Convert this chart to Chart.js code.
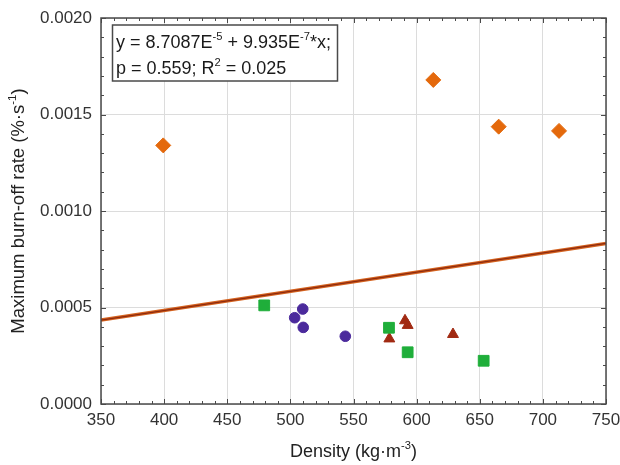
<!DOCTYPE html>
<html><head><meta charset="utf-8">
<script src="https://cdn.jsdelivr.net/npm/chart.js@4"></script>
<style>html,body{margin:0;padding:0;background:#fff;}canvas{display:block}</style>
</head><body>
<canvas id="c" width="620" height="465"></canvas>
<script>
// ---- data ----
const xMin = 350, xMax = 750, xStep = 50;
const yMin = 0, yMax = 0.002, yStep = 0.0005;

const diamondX = [399.3, 613.2, 665.0, 712.8];
const diamondY = [0.001340, 0.001679, 0.001437, 0.001415];

const squareX = [479.3, 578.1, 592.9, 653.1];
const squareY = [0.000511, 0.000395, 0.000268, 0.000224];

const circleX = [503.4, 509.8, 510.2, 543.5];
const circleY = [0.000447, 0.000492, 0.000397, 0.000351];

const triangleX = [578.4, 590.8, 592.9, 628.8];
const triangleY = [0.000338, 0.000432, 0.000408, 0.000361];

const fitLineX = [350, 750];
const fitLineY = [0.000435, 0.000832];

const xTitleParts = [{t:'Density (kg·m'},{t:'-3',sup:true},{t:')'}];
const yTitleParts = [{t:'Maximum burn-off rate (%·s'},{t:'-1',sup:true},{t:')'}];
const eqLine1 = [{t:'y = 8.7087E'},{t:'-5',sup:true},{t:' + 9.935E'},{t:'-7',sup:true},{t:'*x;'}];
const eqLine2 = [{t:'p = 0.559; R'},{t:'2',sup:true},{t:' = 0.025'}];

const FONT = "'Liberation Sans', Arial, sans-serif";

function pts(xs, ys){ return xs.map((x,i)=>({x:x, y:ys[i]})); }

function drawParts(ctx, parts, x, y, size, color){
  ctx.save();
  ctx.fillStyle = color;
  ctx.textBaseline = 'alphabetic';
  ctx.textAlign = 'left';
  let cx = x;
  for (const p of parts){
    const s = p.sup ? size*0.62 : size;
    ctx.font = s + 'px ' + FONT;
    ctx.fillText(p.t, cx, p.sup ? y - size*0.42 : y);
    cx += ctx.measureText(p.t).width;
  }
  ctx.restore();
  return cx - x;
}
function partsWidth(ctx, parts, size){
  ctx.save();
  let w = 0;
  for (const p of parts){
    const s = p.sup ? size*0.62 : size;
    ctx.font = s + 'px ' + FONT;
    w += ctx.measureText(p.t).width;
  }
  ctx.restore();
  return w;
}

const framePlugin = {
  id: 'frame',
  beforeDraw(chart){
    const ctx = chart.ctx;
    ctx.save();
    ctx.fillStyle = '#fff';
    ctx.fillRect(0,0,chart.width,chart.height);
    ctx.restore();
  },
  afterDatasetsDraw(chart){
    const ctx = chart.ctx, a = chart.chartArea;
    const xs = chart.scales.x, ys = chart.scales.y;
    ctx.save();
    ctx.strokeStyle = '#4a4a4a';
    ctx.lineWidth = 1;
    ctx.beginPath();
    for (let v = xMin; v <= xMax + 1e-9; v += 10){
      const px = Math.round(xs.getPixelForValue(v)) + 0.5;
      const len = (Math.abs(v % xStep) < 1e-6) ? 5 : 3;
      ctx.moveTo(px, a.bottom); ctx.lineTo(px, a.bottom - len);
      ctx.moveTo(px, a.top); ctx.lineTo(px, a.top + len);
    }
    for (let i = 0; i <= 20; i++){
      const py = Math.round(ys.getPixelForValue(i*0.0001)) + 0.5;
      const len = (i % 5 === 0) ? 5 : 3;
      ctx.moveTo(a.left, py); ctx.lineTo(a.left + len, py);
      ctx.moveTo(a.right, py); ctx.lineTo(a.right - len, py);
    }
    ctx.stroke();
    ctx.lineWidth = 1.5;
    ctx.strokeStyle = '#4a4a4a';
    ctx.strokeRect(a.left, a.top, a.right - a.left, a.bottom - a.top);

    // equation box
    const bx = 112.5, by = 25, bw = 225, bh = 56;
    ctx.fillStyle = '#fff';
    ctx.fillRect(bx, by, bw, bh);
    ctx.lineWidth = 1.5;
    ctx.strokeStyle = '#4a4a4a';
    ctx.strokeRect(bx, by, bw, bh);
    ctx.restore();
    drawParts(ctx, eqLine1, 116, 48, 18, '#1a1a1a');
    drawParts(ctx, eqLine2, 116, 74, 18, '#1a1a1a');

    // axis titles
    const xw = partsWidth(ctx, xTitleParts, 18);
    drawParts(ctx, xTitleParts, (a.left + a.right)/2 - xw/2, 457, 18, '#222');
    const yw = partsWidth(ctx, yTitleParts, 18.5);
    ctx.save();
    ctx.translate(24, (a.top + a.bottom)/2);
    ctx.rotate(-Math.PI/2);
    drawParts(ctx, yTitleParts, -yw/2, 0, 18.5, '#222');
    ctx.restore();
  }
};

new Chart(document.getElementById('c'), {
  type: 'scatter',
  data: {
    datasets: [
      { type:'line', data: pts(fitLineX, fitLineY), borderColor:'#d4621e', borderWidth:3.5, pointRadius:0, fill:false, tension:0, order:5 },
      { type:'line', data: pts(fitLineX, fitLineY), borderColor:'#8e2a0e', borderWidth:1.2, pointRadius:0, fill:false, tension:0, order:4 },
      { data: pts(diamondX, diamondY), pointStyle:'rectRot', pointRadius:7.5, backgroundColor:'#e4690c', borderColor:'#e4690c', borderWidth:1, order:1 },
      { data: pts(squareX, squareY), pointStyle:'rect', pointRadius:7.6, backgroundColor:'#1fae3a', borderColor:'#1fae3a', borderWidth:1, order:1 },
      { data: pts(circleX, circleY), pointStyle:'circle', pointRadius:5.3, backgroundColor:'#4b2a9c', borderColor:'#4b2a9c', borderWidth:1, order:1 },
      { data: pts(triangleX, triangleY), pointStyle:'triangle', pointRadius:6.3, backgroundColor:'#a12a12', borderColor:'#a12a12', borderWidth:1, order:1 }
    ]
  },
  options: {
    responsive:false, animation:false, devicePixelRatio:1,
    layout:{ padding:{ top:18, right:14, left:0, bottom:0 } },
    plugins:{ legend:{display:false}, tooltip:{enabled:false}, title:{display:false} },
    scales:{
      x:{ type:'linear', min:xMin, max:xMax,
          ticks:{ stepSize:xStep, padding:6, color:'#333', font:{family:FONT, size:17}, maxRotation:0 },
          grid:{ color:'#dcdcdc', lineWidth:1, drawTicks:false },
          border:{ display:false },
          afterFit(s){ s.height = 61; s.paddingLeft = 0; s.paddingRight = 0; } },
      y:{ type:'linear', min:yMin, max:yMax,
          ticks:{ stepSize:yStep, padding:9, color:'#333', font:{family:FONT, size:17}, callback:v=>Number(v).toFixed(4) },
          grid:{ color:'#dcdcdc', lineWidth:1, drawTicks:false },
          border:{ display:false },
          afterFit(s){ s.width = 101; s.paddingTop = 0; s.paddingBottom = 0; } }
    }
  },
  plugins:[framePlugin]
});
</script>
</body></html>
